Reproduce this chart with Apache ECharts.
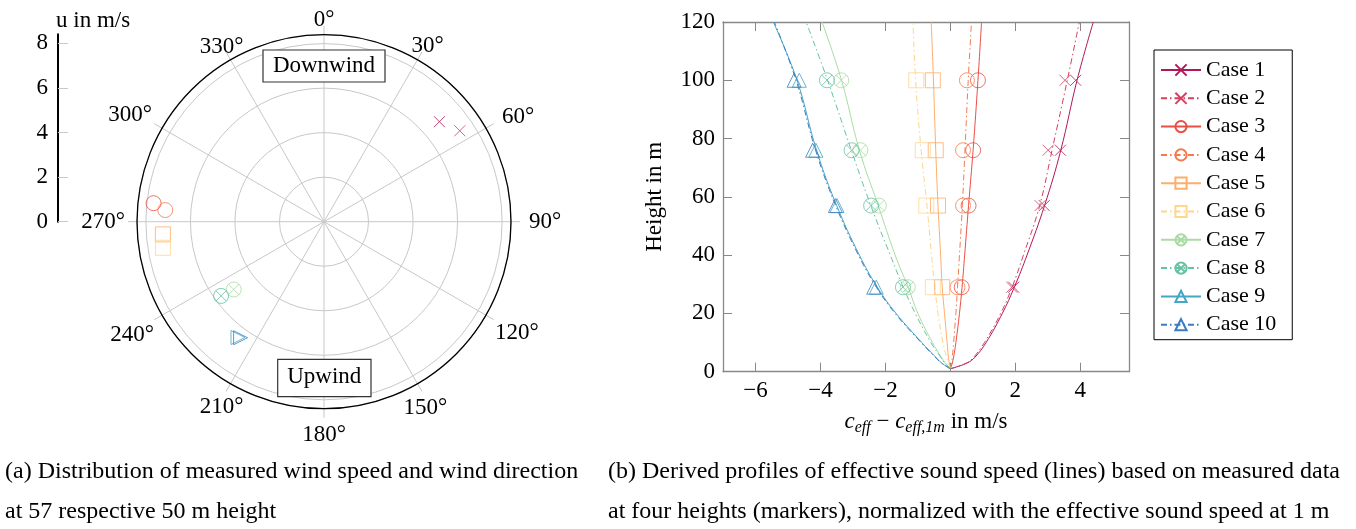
<!DOCTYPE html>
<html>
<head>
<meta charset="utf-8">
<script src="https://cdn.jsdelivr.net/npm/echarts@6/dist/echarts.min.js"></script>
<style>
html, body { margin: 0; padding: 0; background: #fff; }
#chart { width: 1356px; height: 529px; }
</style>
</head>
<body>
<div id="chart"></div>
<script>
const caseNames = ['Case 1', 'Case 2', 'Case 3', 'Case 4', 'Case 5', 'Case 6', 'Case 7', 'Case 8', 'Case 9', 'Case 10'];
const caseColors = ['#b01759', '#d6405e', '#ea4f45', '#f57a4b', '#fcae6a', '#fed68d', '#a9dca2', '#66c2a5', '#45a6c6', '#3b7dc0'];

// (a) wind speed in m/s and wind direction in degrees, one point per case
const windSpeed = [6.86, 7.34, 7.70, 7.15, 7.26, 7.33, 5.07, 5.70, 6.48, 6.42];
const windDir = [49.1, 56.2, 276.2, 274.2, 265.5, 260.8, 233.1, 234.2, 216.6, 215.7];
const speedTicks = [0, 2, 4, 6, 8];

// (b) derived profiles (lines)
const profileHeights = [1, 3, 5, 10, 20, 29, 40, 57, 76, 100, 120];
const profile1 = [0, 0.52, 0.76, 1.1, 1.6, 1.97, 2.36, 2.9, 3.4, 3.9, 4.4];
const profile2 = [0, 0.5, 0.72, 1.05, 1.55, 1.9, 2.25, 2.75, 3.13, 3.6, 3.97];
const profile3 = [0, 0.06, 0.1, 0.17, 0.28, 0.36, 0.44, 0.56, 0.7, 0.85, 0.96];
const profile4 = [0, 0.04, 0.06, 0.1, 0.17, 0.22, 0.28, 0.37, 0.45, 0.55, 0.65];
const profile5 = [0, -0.03, -0.06, -0.1, -0.18, -0.25, -0.3, -0.38, -0.45, -0.52, -0.59];
const profile6 = [0, -0.07, -0.12, -0.23, -0.38, -0.48, -0.58, -0.72, -0.9, -1.07, -1.15];
const profile7 = [0, -0.16, -0.28, -0.55, -1.0, -1.3, -1.7, -2.22, -2.8, -3.35, -3.95];
const profile8 = [0, -0.17, -0.3, -0.6, -1.08, -1.45, -1.85, -2.45, -3.05, -3.78, -4.44];
const profile9 = [0, -0.27, -0.45, -0.88, -1.67, -2.25, -2.8, -3.5, -4.12, -4.72, -5.45];
const profile10 = [0, -0.28, -0.47, -0.9, -1.7, -2.28, -2.83, -3.53, -4.15, -4.75, -5.42];
const profiles = [profile1, profile2, profile3, profile4, profile5, profile6, profile7, profile8, profile9, profile10];

// (b) measured values at four heights (markers)
const markerHeights = [29, 57, 76, 100];
const measured1 = [1.95, 2.89, 3.39, 3.86];
const measured2 = [1.89, 2.76, 3.01, 3.53];
const measured3 = [0.35, 0.56, 0.70, 0.85];
const measured4 = [0.22, 0.39, 0.39, 0.51];
const measured5 = [-0.25, -0.38, -0.45, -0.54];
const measured6 = [-0.54, -0.74, -0.85, -1.05];
const measured7 = [-1.31, -2.20, -2.77, -3.36];
const measured8 = [-1.46, -2.44, -3.04, -3.80];
const measured9 = [-2.28, -3.49, -4.14, -4.65];
const measured10 = [-2.36, -3.54, -4.24, -4.81];
const measured = [measured1, measured2, measured3, measured4, measured5, measured6, measured7, measured8, measured9, measured10];

const xTicks = [-6, -4, -2, 0, 2, 4];

const crossPath = 'path://M0,0L10,10M10,0L0,10';
const otimesPath = 'path://M20,10A10,10,0,1,1,0,10A10,10,0,1,1,20,10ZM2.93,2.93L17.07,17.07M17.07,2.93L2.93,17.07';
const caseSymbols = [crossPath, crossPath, 'circle', 'circle', 'rect', 'rect', otimesPath, otimesPath, 'triangle', 'triangle'];
const caseSymbolSize = [11, 11, 15, 15, 15, 15, 15, 15, 14, 14];
const dashDot = [6, 3, 1.5, 3];

const serif = 'Liberation Serif';
const minus = v => String(v).replace('-', '\u2212');

// nudges for the angle labels (top, right, bottom, left)
const anglePad = {
    0: [0, 0, 3, 0],
    30: [0, 0, 2, -6],
    60: [0, 0, 0, 16],
    90: [0, 0, 0, 18],
    120: [6, 0, 0, 9],
    150: [13, 0, 0, -14],
    180: [15, 0, 0, 0],
    210: [12, -13, 0, 0],
    240: [8, 8, 0, 0],
    270: [0, 12, 0, 0],
    300: [0, 10, 2, 0],
    330: [0, -13, 1, 0]
};
let angleRich = {};
Object.keys(anglePad).forEach(k => {
    angleRich['a' + k] = { fontSize: 23, fontFamily: serif, color: '#000', padding: anglePad[k] };
});

let chart = echarts.init(document.getElementById('chart'));

let series = [];
// lines first so the legend takes their icon
caseNames.forEach((name, i) => {
    series.push({
        name: name,
        type: 'line',
        xAxisIndex: 0,
        yAxisIndex: 0,
        data: profileHeights.map((h, k) => [profiles[i][k], h]),
        smooth: 0.4,
        showSymbol: false,
        symbol: caseSymbols[i],
        symbolSize: caseSymbolSize[i],
        lineStyle: {
            color: caseColors[i],
            width: 1,
            type: i % 2 === 1 ? dashDot : 'solid'
        },
        itemStyle: {
            color: 'transparent',
            borderColor: caseColors[i],
            borderWidth: 1
        },
        z: 2
    });
});
caseNames.forEach((name, i) => {
    series.push({
        name: name,
        type: 'scatter',
        xAxisIndex: 0,
        yAxisIndex: 0,
        data: markerHeights.map((h, k) => [measured[i][k], h]),
        symbol: caseSymbols[i],
        symbolSize: caseSymbolSize[i],
        itemStyle: {
            color: 'transparent',
            borderColor: caseColors[i],
            borderWidth: 1
        },
        z: 3
    });
    series.push({
        name: name,
        type: 'scatter',
        coordinateSystem: 'polar',
        polarIndex: 0,
        data: [[windSpeed[i], windDir[i]]],
        symbol: caseSymbols[i],
        symbolSize: caseSymbolSize[i],
        symbolRotate: caseSymbols[i] === 'triangle' ? -90 : 0,
        itemStyle: {
            color: 'transparent',
            borderColor: caseColors[i],
            borderWidth: 1
        },
        z: 3
    });
});

let option = {
    backgroundColor: '#fff',
    animation: false,
    textStyle: { fontFamily: serif },
    polar: {
        center: [324, 221.7],
        radius: 187
    },
    angleAxis: {
        type: 'value',
        min: 0,
        max: 360,
        interval: 30,
        startAngle: 90,
        clockwise: true,
        axisLine: { lineStyle: { color: '#000', width: 1.3 } },
        axisTick: { show: true, length: 9, lineStyle: { color: '#c4c4c4' } },
        axisLabel: {
            margin: 0,
            color: '#000',
            fontSize: 23,
            fontFamily: serif,
            formatter: v => (v === 360 ? '' : '{a' + v + '|' + v + '\u00b0}'),
            rich: angleRich
        },
        splitLine: { lineStyle: { color: '#c8c8c8', width: 1 } }
    },
    radiusAxis: {
        min: 0,
        max: 8.4,
        interval: 2,
        axisLine: { show: false },
        axisTick: { show: false },
        axisLabel: { show: false },
        splitLine: { lineStyle: { color: '#c8c8c8', width: 1 } }
    },
    grid: [
        { left: 723, top: 22, width: 406, height: 349.7 },
        { left: 58, top: 34.3, width: 1, height: 187.4 }
    ],
    xAxis: [
        {
            gridIndex: 0,
            type: 'value',
            min: -7,
            max: 5.5,
            position: 'bottom',
            name: '{i|c}{s|eff}{o| \u2212 }{i|c}{s|eff,1m}{o| in m/s}',
            nameLocation: 'middle',
            nameGap: 36,
            nameTextStyle: {
                color: '#000',
                rich: {
                    i: { fontFamily: serif, fontStyle: 'italic', fontSize: 23, color: '#000' },
                    s: { fontFamily: serif, fontStyle: 'italic', fontSize: 16, color: '#000', padding: [12, 0, 0, 0] },
                    o: { fontFamily: serif, fontSize: 23, color: '#000' }
                }
            },
            axisLine: { onZero: false, lineStyle: { color: '#888', width: 1.3 } },
            axisTick: { inside: true, length: 9, customValues: xTicks, lineStyle: { color: '#888' } },
            axisLabel: { customValues: xTicks, color: '#000', fontSize: 23, margin: 8, formatter: minus },
            splitLine: { show: false }
        },
        {
            gridIndex: 0,
            type: 'value',
            min: -7,
            max: 5.5,
            position: 'top',
            axisLine: { onZero: false, lineStyle: { color: '#888', width: 1.3 } },
            axisTick: { inside: true, length: 9, customValues: xTicks, lineStyle: { color: '#888' } },
            axisLabel: { show: false },
            splitLine: { show: false }
        },
        { gridIndex: 1, type: 'value', show: false }
    ],
    yAxis: [
        {
            gridIndex: 0,
            type: 'value',
            min: 0,
            max: 120,
            interval: 20,
            position: 'left',
            name: 'Height in m',
            nameLocation: 'middle',
            nameGap: 57,
            nameTextStyle: { color: '#000', fontSize: 23, fontFamily: serif },
            axisLine: { onZero: false, lineStyle: { color: '#888', width: 1.3 } },
            axisTick: { inside: true, length: 9, lineStyle: { color: '#888' } },
            axisLabel: { color: '#000', fontSize: 23, margin: 8 },
            splitLine: { show: false }
        },
        {
            gridIndex: 0,
            type: 'value',
            min: 0,
            max: 120,
            interval: 20,
            position: 'right',
            axisLine: { onZero: false, lineStyle: { color: '#888', width: 1.3 } },
            axisTick: { inside: true, length: 9, lineStyle: { color: '#888' } },
            axisLabel: { show: false },
            splitLine: { show: false }
        },
        {
            gridIndex: 1,
            type: 'value',
            min: 0,
            max: 8.4,
            position: 'left',
            name: 'u in m/s',
            nameLocation: 'end',
            nameGap: 2,
            nameTextStyle: { color: '#000', fontSize: 23, fontFamily: serif, align: 'left', padding: [0, 0, 0, -2] },
            axisLine: { lineStyle: { color: '#000', width: 2 } },
            axisTick: { inside: true, length: 10, customValues: speedTicks, lineStyle: { color: '#c8c8c8' } },
            axisLabel: { customValues: speedTicks, color: '#000', fontSize: 23, margin: 10 },
            splitLine: { show: false }
        }
    ],
    legend: {
        data: caseNames,
        orient: 'vertical',
        left: 1154,
        top: 50,
        itemWidth: 40,
        itemHeight: 14,
        itemGap: 6.3,
        padding: [9, 16, 4, 6],
        borderColor: '#000',
        borderWidth: 1,
        borderRadius: 0,
        textStyle: { color: '#000', fontSize: 22, fontFamily: serif }
    },
    graphic: [
        {
            type: 'rect',
            shape: { x: 263, y: 50, width: 122, height: 32 },
            style: { fill: '#fff', stroke: '#333', lineWidth: 1.2 },
            z: 10
        },
        {
            type: 'text',
            x: 324, y: 66,
            style: { text: 'Downwind', font: '23px "Liberation Serif"', fill: '#000', align: 'center', verticalAlign: 'middle' },
            z: 11
        },
        {
            type: 'rect',
            shape: { x: 277.7, y: 359.3, width: 93.3, height: 37.3 },
            style: { fill: '#fff', stroke: '#333', lineWidth: 1.2 },
            z: 10
        },
        {
            type: 'text',
            x: 324.3, y: 377,
            style: { text: 'Upwind', font: '23px "Liberation Serif"', fill: '#000', align: 'center', verticalAlign: 'middle' },
            z: 11
        },
        {
            type: 'text',
            left: 5, top: 460,
            style: { text: '(a) Distribution of measured wind speed and wind direction', font: '24px "Liberation Serif"', fill: '#000' }
        },
        {
            type: 'text',
            left: 5, top: 500,
            style: { text: 'at 57 respective 50 m height', font: '24px "Liberation Serif"', fill: '#000' }
        },
        {
            type: 'text',
            left: 608, top: 460,
            style: { text: '(b) Derived profiles of effective sound speed (lines) based on measured data', font: '24px "Liberation Serif"', fill: '#000' }
        },
        {
            type: 'text',
            left: 608, top: 500,
            style: { text: 'at four heights (markers), normalized with the effective sound speed at 1 m', font: '24px "Liberation Serif"', fill: '#000' }
        }
    ],
    series: series
};
chart.setOption(option);
window.addEventListener('resize', () => {
    chart.resize();
});
</script>
</body>
</html>
